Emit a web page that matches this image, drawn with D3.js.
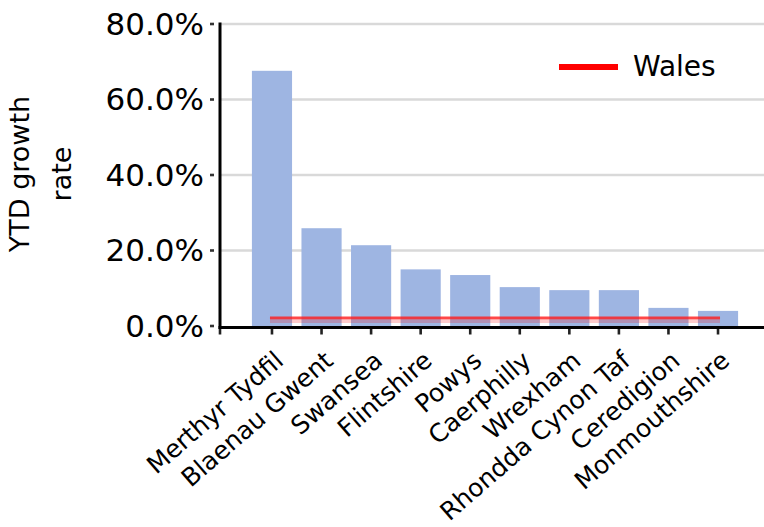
<!DOCTYPE html>
<html>
<head>
<meta charset="utf-8">
<script src="https://cdn.jsdelivr.net/npm/d3@7/dist/d3.min.js"></script>
<style>
  body { margin: 0; background: #fff; }
  svg { display: block; font-family: "DejaVu Sans", sans-serif; }
</style>
</head>
<body>
<div id="chart"></div>
<script>
// data
var areas = ["Merthyr Tydfil","Blaenau Gwent","Swansea","Flintshire","Powys",
  "Caerphilly","Wrexham","Rhondda Cynon Taf","Ceredigion","Monmouthshire"];
var growth = [0.676, 0.259, 0.214, 0.150, 0.135, 0.103, 0.095, 0.095, 0.048, 0.040];
var walesRate = 0.021;
var yTicks = [0, 0.2, 0.4, 0.6, 0.8];

var width = 764, height = 527;

var svg = d3.select("#chart").append("svg")
  .attr("width", width)
  .attr("height", height);

var axisX0 = 220;

var x = d3.scaleBand()
  .domain(areas)
  .range([247.2, 742.8])
  .paddingInner(0.19)
  .paddingOuter(0.095);

var y = d3.scaleLinear()
  .domain([0, 0.8])
  .range([326, 24]);

var fmt = d3.format(".1%");

// gridlines
svg.append("g").selectAll("line")
  .data(yTicks.slice(1))
  .enter().append("line")
  .attr("x1", axisX0)
  .attr("x2", width)
  .attr("y1", function(d){ return y(d); })
  .attr("y2", function(d){ return y(d); })
  .attr("stroke", "#d9d9d9")
  .attr("stroke-width", 2.5);

// bars
svg.append("g").selectAll("rect")
  .data(areas)
  .enter().append("rect")
  .attr("x", function(d){ return x(d); })
  .attr("y", function(d, i){ return y(growth[i]); })
  .attr("width", x.bandwidth())
  .attr("height", function(d, i){ return y(0) - y(growth[i]); })
  .attr("fill", "#9eb5e2");

// Wales line
var first = x(areas[0]) + x.bandwidth()/2;
var last = x(areas[areas.length-1]) + x.bandwidth()/2;
svg.append("line")
  .attr("x1", first - 2).attr("x2", last + 2)
  .attr("y1", y(walesRate) + 3.5).attr("y2", y(walesRate) + 3.5)
  .attr("stroke", "#ff0000")
  .attr("stroke-opacity", 0.2)
  .attr("stroke-width", 3);
svg.append("line")
  .attr("x1", first - 2).attr("x2", last + 2)
  .attr("y1", y(walesRate)).attr("y2", y(walesRate))
  .attr("stroke", "#ff1a1a")
  .attr("stroke-opacity", 0.8)
  .attr("stroke-width", 3);

// y axis
svg.append("line")
  .attr("x1", axisX0).attr("x2", axisX0)
  .attr("y1", y(0.8) - 1.5).attr("y2", y(0) + 3)
  .attr("stroke", "#000")
  .attr("stroke-width", 3);

var yAxis = svg.append("g");
yAxis.selectAll("rect")
  .data(yTicks)
  .enter().append("rect")
  .attr("x", 210).attr("width", 4)
  .attr("y", function(d){ return y(d) - 1.3; })
  .attr("height", 2.6)
  .attr("fill", "#333");
yAxis.selectAll("text")
  .data(yTicks)
  .enter().append("text")
  .attr("x", 204)
  .attr("y", function(d){ return y(d); })
  .attr("dy", "0.35em")
  .attr("text-anchor", "end")
  .style("font-size", "31px")
  .attr("fill", "#000")
  .text(function(d){ return fmt(d); });

// x axis
svg.append("line")
  .attr("x1", axisX0 - 1.5).attr("x2", width)
  .attr("y1", y(0) + 1.5).attr("y2", y(0) + 1.5)
  .attr("stroke", "#000")
  .attr("stroke-width", 3);

var tickXs = [axisX0].concat(areas.map(function(d){ return x(d) + x.bandwidth()/2; }));
svg.append("g").selectAll("rect")
  .data(tickXs)
  .enter().append("rect")
  .attr("x", function(d){ return d - 1.3; })
  .attr("y", y(0) + 3)
  .attr("width", 2.6)
  .attr("height", 5.5)
  .attr("fill", "#222");

svg.append("g").selectAll("text")
  .data(areas)
  .enter().append("text")
  .attr("transform", function(d){
    return "translate(" + (x(d) + x.bandwidth()/2 + 13) + ",363) rotate(-41)";
  })
  .attr("text-anchor", "end")
  .style("font-size", "25px")
  .attr("fill", "#000")
  .text(function(d){ return d; });

// axis title
var title = svg.append("text")
  .attr("transform", "translate(29,174) rotate(-90)")
  .attr("text-anchor", "middle")
  .style("font-size", "27px")
  .attr("fill", "#000");
title.append("tspan").attr("x", 0).attr("y", 0).text("YTD growth");
title.append("tspan").attr("x", 0).attr("y", 42).text("rate");

// legend
svg.append("rect")
  .attr("x", 559).attr("y", 64)
  .attr("width", 59).attr("height", 6)
  .attr("fill", "#ff0000");
svg.append("text")
  .attr("x", 633).attr("y", 76)
  .style("font-size", "28px")
  .attr("fill", "#000")
  .text("Wales");
</script>
</body>
</html>
